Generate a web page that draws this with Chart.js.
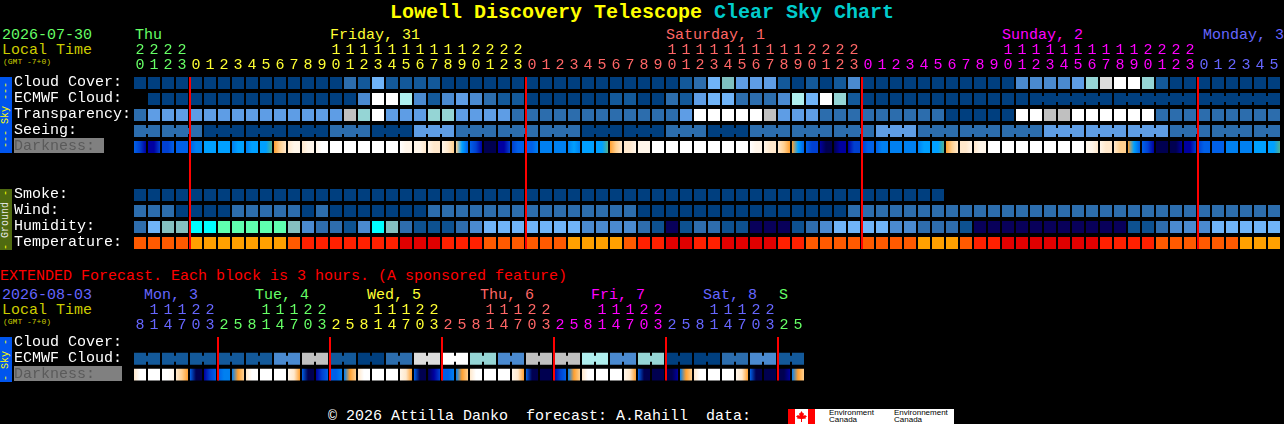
<!DOCTYPE html>
<html><head><meta charset="utf-8">
<script src="https://cdn.jsdelivr.net/npm/chart.js@4"></script>
<style>
html,body{margin:0;padding:0;background:#000;width:1284px;height:424px;overflow:hidden}
body{position:relative;font:15px/15px "Liberation Mono",monospace;color:#fff}
.t{position:absolute;white-space:pre;line-height:15px}
canvas{position:absolute;left:0}
.box{position:absolute;left:14px;background:#808080;height:15px}
.strip{position:absolute;left:0;width:12px;overflow:hidden}
.strip span{position:absolute;left:6px;top:50%;transform:translate(-50%,-50%) rotate(-90deg);font:10px/10px "Liberation Mono",monospace;white-space:pre;color:#ffff00}
</style></head><body>
<div class="t" style="left:390px;top:2px;font-size:20px;line-height:22px;font-weight:bold;color:#ffff00">Lowell Discovery Telescope <span style="color:#00cccc">Clear Sky Chart</span></div>
<div class="t" style="left:2px;top:28px;color:#66ff66">2026-07-30</div>
<div class="t" style="left:2px;top:43px;color:#cccc00">Local Time</div>
<div class="t" style="left:3px;top:57px;font-size:8px;line-height:10px;color:#cccc00">(GMT -7+0)</div>
<div class="t" style="left:135px;top:28px;color:#66ff66">Thu</div>
<div class="t" style="left:330px;top:28px;color:#ffff33">Friday, 31</div>
<div class="t" style="left:666px;top:28px;color:#ff6666">Saturday, 1</div>
<div class="t" style="left:1002px;top:28px;color:#ff00ff">Sunday, 2</div>
<div class="t" style="left:1203px;top:28px;color:#6666ff">Monday, 3</div>
<div class="box" style="top:138px;width:90px"></div>
<div class="box" style="top:366px;width:108px"></div>
<div class="strip" style="top:77px;height:76px;background:#0055ee"><span>--- Sky ---</span></div>
<div class="strip" style="top:189px;height:61px;background:#4f6a10"><span>- <b style="font-weight:normal;color:#e8e8e8">Ground</b> -</span></div>
<div class="strip" style="top:337px;height:45px;background:#0055ee"><span>- Sky -</span></div>
<div class="t" style="left:0;top:269px;color:#ff0000">EXTENDED Forecast. Each block is 3 hours. (A sponsored feature)</div>
<div class="t" style="left:2px;top:288px;color:#6666ff">2026-08-03</div>
<div class="t" style="left:2px;top:303px;color:#cccc00">Local Time</div>
<div class="t" style="left:3px;top:317px;font-size:8px;line-height:10px;color:#cccc00">(GMT -7+0)</div>
<div class="t" style="left:144px;top:288px;color:#6666ff">Mon, 3</div>
<div class="t" style="left:255px;top:288px;color:#66ff66">Tue, 4</div>
<div class="t" style="left:367px;top:288px;color:#ffff33">Wed, 5</div>
<div class="t" style="left:480px;top:288px;color:#ff6666">Thu, 6</div>
<div class="t" style="left:591px;top:288px;color:#ff00ff">Fri, 7</div>
<div class="t" style="left:703px;top:288px;color:#6666ff">Sat, 8</div>
<div class="t" style="left:779px;top:288px;color:#66ff66">S</div>
<div class="t" style="left:328px;top:409px;color:#fff">© 2026 Attilla Danko  forecast: A.Rahill  data:</div>
<div style="position:absolute;left:788px;top:409px;width:166px;height:15px;background:#fff">
<div style="position:absolute;left:0;top:0;width:7px;height:15px;background:#f00"></div>
<div style="position:absolute;left:20px;top:0;width:7px;height:15px;background:#f00"></div>
<svg style="position:absolute;left:8px;top:2px" width="11" height="11" viewBox="0 0 11 11"><path d="M5.5 0L7 2.5 8 2 7.5 5 9 4 11 5.5 9.5 6.5 10 7.5 6 8 6 11 5 11 5 8 1 7.5 1.5 6.5 0 5.5 2 4 3.5 5 3 2 4 2.5Z" fill="#f00"/></svg>
<div class="t" style="left:41px;top:0;font:8px/7px 'Liberation Sans',sans-serif;color:#000">Environment<br>Canada</div>
<div class="t" style="left:106px;top:0;font:8px/7px 'Liberation Sans',sans-serif;color:#000">Environnement<br>Canada</div>
</div>
<canvas id="a" width="1284" height="260" style="top:0;width:1284px;height:260px"></canvas>
<canvas id="b" width="1284" height="130" style="top:260px;width:1284px;height:130px"></canvas>
<script>
const GREEN='#66ff66',YELLOW='#ffff33',SALMON='#ff6666',MAGENTA='#ff00ff',BLUE='#6666ff';

const hoursMain=[20,21,22,23,0,1,2,3,4,5,6,7,8,9,10,11,12,13,14,15,16,17,18,19,20,21,22,23,0,1,2,3,4,5,6,7,8,9,10,11,12,13,14,15,16,17,18,19,20,21,22,23,0,1,2,3,4,5,6,7,8,9,10,11,12,13,14,15,16,17,18,19,20,21,22,23,0,1,2,3,4,5];
const hoursExt=[8,11,14,17,20,23,2,5,8,11,14,17,20,23,2,5,8,11,14,17,20,23,2,5,8,11,14,17,20,23,2,5,8,11,14,17,20,23,2,5,8,11,14,17,20,23,2,5];
const colourRunsMain=[[GREEN,4],[YELLOW,24],[SALMON,24],[MAGENTA,24],[BLUE,6]];
const colourRunsExt=[[BLUE,6],[GREEN,8],[YELLOW,8],[SALMON,8],[MAGENTA,8],[BLUE,8],[GREEN,2]];

const rowNamesMain=['Cloud Cover:','ECMWF Cloud:','Transparency:','Seeing:','Darkness:','','','Smoke:','Wind:','Humidity:','Temperature:'];
const rowNamesExt=['Cloud Cover:','ECMWF Cloud:','Darkness:'];

const skyColours=['#003f7f','#13599a','#2c6dad','#4a8ad0','#5e9de5','#70b4f8','#7fbfbf','#95d5d5','#afefef','#c0c0c0','#dddddd','#ffffff'];
const humidityColours=['#08005a','#0d5190','#2e6dad','#4a8ad0','#70b4f8','#85bfbf','#5fffaf','#00ffff'];
const temperatureColours=['#e00000','#ff2000','#ff5a00','#ffa000'];
const darknessColours=['#000050','#0000a0','#0040d0','#0060e8','#0080f0','#00a0ff','#50b090','#ffa030','#ffd090','#ffe8cc','#fff6ea','#ffffff'];

const cloudCover=[0,0,0,0,0,0,0,0,0,0,0,0,0,0,0,2,1,5,1,1,1,1,0,0,0,0,0,0,0,0,0,0,0,0,0,0,0,0,0,1,2,5,6,4,4,4,1,0,1,0,1,3,0,0,0,0,0,0,0,0,0,0,0,3,3,3,3,4,7,10,11,11,7,1,0,0,0,0,0,0,0,0];
const ecmwfCloud=[null,0,0,0,0,0,0,0,0,0,0,0,0,0,0,0,3,11,11,8,3,1,3,4,3,2,1,1,0,0,0,0,0,0,1,1,0,0,2,1,4,5,5,2,2,2,3,8,5,11,7,1,0,0,0,0,0,0,0,0,0,0,0,0,0,0,0,0,0,0,0,0,0,0,0,0,0,0,0,0,0,0];
const transparency=[2,4,4,4,4,4,4,4,4,4,4,4,4,4,4,9,7,11,4,4,4,7,7,4,4,4,4,2,2,2,2,2,2,2,2,2,2,2,2,4,11,11,11,11,11,9,4,4,4,2,2,2,2,2,2,2,2,2,0,0,0,0,0,11,11,9,9,11,11,11,11,11,11,2,2,2,2,2,2,2,2,2];
const seeing=[2,2,2,2,2,0,0,0,0,0,0,0,0,0,2,2,2,0,0,0,4,4,4,2,2,2,2,2,2,2,2,2,0,0,0,0,0,0,2,2,2,0,0,0,2,2,2,2,2,2,2,2,2,4,4,4,2,2,2,2,2,2,2,2,2,4,4,4,4,4,4,4,4,4,2,2,2,2,2,2,2,2];
const smoke=[0,0,0,0,0,0,0,0,0,0,0,0,0,0,0,0,0,0,0,0,0,0,0,0,0,0,0,0,0,0,0,0,0,0,0,0,0,0,0,0,0,0,0,0,0,0,0,0,0,0,0,0,0,0,0,0,0,0];
const wind=[2,2,2,0,0,0,0,2,2,2,2,2,0,2,0,0,0,0,0,0,0,2,2,2,2,2,2,2,2,2,2,2,2,2,2,2,0,0,0,0,0,0,0,0,0,0,0,0,0,0,0,2,2,2,2,2,2,2,2,2,2,2,2,2,2,2,2,2,2,2,2,2,2,2,2,2,2,2,2,2,2,2];
const humidity=[2,4,5,5,7,7,6,6,6,6,6,5,3,2,2,1,3,7,5,2,1,1,1,2,3,4,4,4,4,4,4,4,3,3,3,3,2,1,0,1,2,2,1,1,0,0,0,1,2,3,4,4,4,4,3,3,2,2,2,1,0,0,0,0,0,0,0,0,0,0,0,1,1,2,3,3,3,4,4,4,4,4];
const temperature=[2,2,2,2,3,3,3,3,3,3,3,2,1,1,1,1,1,1,1,0,0,0,1,1,1,2,2,2,2,2,2,3,3,3,3,2,1,1,0,0,1,1,0,0,0,0,1,1,2,2,2,2,2,2,2,2,3,3,3,2,1,1,0,0,0,0,0,0,0,1,1,1,1,2,2,2,2,2,2,3,3,3];
const darkness=[[3,2,1],[1,1,2],[2,2,3],[3,3,3],[3,4,4],[5,5,5],[5,5,5],[4,5,5],[4,5,5],[5,5,6],[7,8,9],[9,10,10],[9,10,10],[10,11,11],[11,11,11],[11,11,11],[11,11,11],[11,11,11],[11,11,11],[11,10,10],[10,10,9],[10,9,9],[10,9,8],[8,5,3],[3,2,1],[0,0,0],[1,1,2],[2,3,3],[3,3,4],[4,4,4],[4,4,4],[4,5,4],[5,5,5],[5,5,6],[7,8,9],[9,9,10],[10,10,10],[11,11,11],[11,11,11],[11,11,11],[11,11,11],[11,11,11],[11,11,11],[11,11,11],[11,10,10],[10,9,9],[9,8,7],[7,5,3],[3,2,2],[1,0,0],[0,1,1],[1,2,2],[2,3,3],[3,4,4],[4,4,4],[4,4,4],[4,5,5],[5,5,6],[7,8,9],[9,9,10],[9,10,10],[11,11,11],[11,11,11],[11,11,11],[11,11,11],[11,11,11],[11,11,11],[11,11,11],[10,10,9],[10,9,9],[9,8,8],[7,5,3],[3,2,1],[0,0,0],[0,0,1],[1,1,2],[2,3,3],[3,3,3],[4,4,4],[4,4,4],[5,5,5],[5,5,6]];

const extEcmwf=[1,1,1,1,1,1,1,1,1,1,3,3,9,9,1,1,0,0,2,2,10,10,11,11,7,7,3,3,9,9,9,9,8,8,3,3,7,7,0,0,0,0,2,2,3,3,1,1];
const extDarkness=[[9,11,11],[11,11,11],[11,11,10],[9,8,7],[3,0,0],[1,2,3],[3,4,4],[4,7,8],[9,11,11],[11,11,11],[11,11,11],[10,9,7],[3,0,0],[1,2,3],[3,3,4],[4,7,8],[9,11,11],[11,11,11],[11,11,11],[10,9,7],[3,0,0],[0,1,2],[3,3,4],[4,7,8],[9,11,11],[11,11,11],[11,11,11],[10,9,7],[3,0,0],[0,0,0],[1,2,3],[4,7,8],[9,11,11],[11,11,11],[11,11,11],[10,9,7],[3,0,0],[0,0,0],[0,0,1],[4,7,8],[9,11,11],[11,11,11],[11,11,11],[10,9,7],[3,0,0],[0,0,0],[0,0,1],[4,7,8]];

const seeingBlockStarts=[0,2,5,8,11,14,17,20,23,26,29,32,35,38,41,44,47,50,53,56,59,62,65,68,71,74,77,80];
const ecmwfBlockStarts=[64,70,76];
const extBlockStarts=[0,2,4,6,8,10,12,14,16,18,20,22,24,26,28,30,32,34,36,38,40,42,44,46];
const midnightsMain=[4,28,52,76];
const midnightsExt=[6,14,22,30,38,46];

const CELL=14,CELL_H=0.375,LINK_H=0.1875;
const expandRuns=runs=>runs.flatMap(([c,n])=>Array(n).fill(c));

function cells(values,row,palette){
  const idx=values.map((v,i)=>v===null?-1:i).filter(i=>i>=0);
  return {data:idx.map(i=>({x:i,y:[row-CELL_H,row+CELL_H]})),backgroundColor:idx.map(i=>palette[values[i]]),barThickness:12};
}
function gradCells(values,row,palette){
  return {data:values.map((v,i)=>({x:i,y:[row-CELL_H,row+CELL_H]})),barThickness:12,
    backgroundColor(c){
      if(c.dataIndex===undefined) return '#000';
      const px=c.chart.scales.x&&c.chart.scales.x.getPixelForValue(c.dataIndex);
      if(!Number.isFinite(px)) return '#000';
      const g=c.chart.ctx.createLinearGradient(px-6,0,px+6,0);
      values[c.dataIndex].forEach((l,k,a)=>g.addColorStop(k/(a.length-1),palette[l]));
      return g;
    }};
}
function links(values,row,palette,starts,end){
  const pts=[];
  starts.forEach((s,k)=>{
    const e=k+1<starts.length?starts[k+1]:end;
    for(let i=s;i<e-1;i++) pts.push(i);
  });
  return {data:pts.map(i=>({x:i+0.5,y:[row-LINK_H,row+LINK_H]})),backgroundColor:pts.map(i=>palette[values[i]]),barThickness:2};
}
function redLines(midnights,lastRow){
  return {data:midnights.map(m=>({x:m-0.5+1/CELL,y:[-CELL_H,lastRow+CELL_H]})),backgroundColor:'#ff0000',barThickness:2};
}
function makeChart(id,hours,runs,rowNames,datasets){
  const colours=expandRuns(runs);
  const chart=new Chart(document.getElementById(id),{
    type:'bar',
    data:{datasets:datasets.map(d=>Object.assign({grouped:false,borderWidth:0,borderSkipped:false,inflateAmount:0},d))},
    options:{
      responsive:false,animation:false,devicePixelRatio:1,
      layout:{padding:{left:14,right:3,top:0,bottom:document.getElementById(id).height-75-rowNames.length*16}},
      plugins:{legend:{display:false},tooltip:{enabled:false}},
      events:[],
      scales:{
        x:{type:'linear',position:'top',offset:false,min:-0.5,max:81.5,
          grid:{display:false,drawTicks:false,offset:false},border:{display:false},
          afterFit(s){s.height=75;},
          afterBuildTicks(s){s.ticks=hours.map((h,i)=>({value:i}));},
          ticks:{autoSkip:false,maxRotation:0,minRotation:0,padding:2.5,
            font:{family:'"Liberation Mono",monospace',size:15,lineHeight:1},
            color:c=>colours[c.index],
            callback(v){const h=hours[v];return [h>=10?String(Math.floor(h/10)):' ',String(h%10)];}}
        },
        y:{type:'linear',reverse:true,position:'left',min:-0.5,max:rowNames.length-0.5,
          grid:{display:false,drawTicks:false},border:{display:false},
          afterFit(s){s.width=119;},
          afterBuildTicks(s){s.ticks=rowNames.map((n,i)=>({value:i}));},
          ticks:{autoSkip:false,crossAlign:'far',padding:0,labelOffset:-1,
            font:{family:'"Liberation Mono",monospace',size:15,lineHeight:1},
            color:c=>rowNames[c.index]==='Darkness:'?'#5a5a5a':'#ffffff',
            callback(v){return rowNames[v];}}
        }
      }
    }
  });
  chart.update();
  return chart;
}
makeChart('a',hoursMain,colourRunsMain,rowNamesMain,[
  redLines(midnightsMain,10),
  cells(cloudCover,0,skyColours),
  cells(ecmwfCloud,1,skyColours),
  links(ecmwfCloud,1,skyColours,ecmwfBlockStarts,82),
  cells(transparency,2,skyColours),
  cells(seeing,3,skyColours),
  links(seeing,3,skyColours,seeingBlockStarts,82),
  gradCells(darkness,4,darknessColours),
  cells(smoke,7,skyColours),
  cells(wind,8,skyColours),
  cells(humidity,9,humidityColours),
  cells(temperature,10,temperatureColours)
]);
makeChart('b',hoursExt,colourRunsExt,rowNamesExt,[
  redLines(midnightsExt,2),
  cells(extEcmwf,1,skyColours),
  links(extEcmwf,1,skyColours,extBlockStarts,48),
  gradCells(extDarkness,2,darknessColours)
]);
</script>
</body></html>
